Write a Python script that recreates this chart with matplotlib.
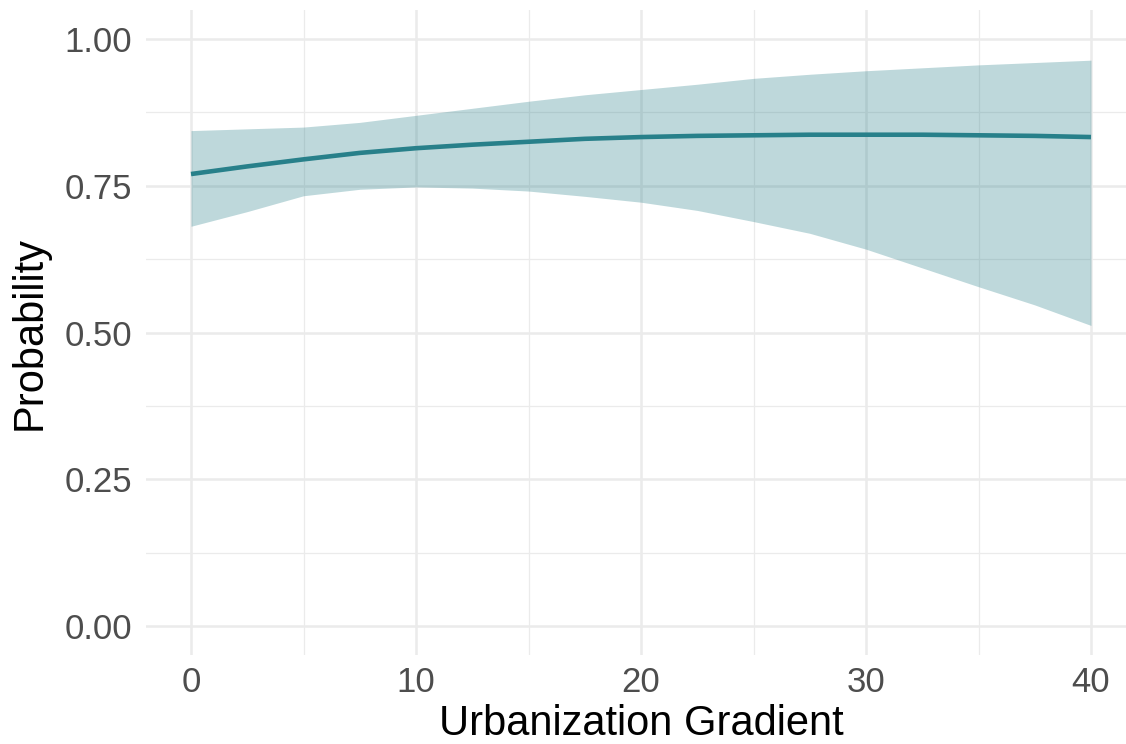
import matplotlib
matplotlib.use('Agg')
import matplotlib.pyplot as plt
from matplotlib.ticker import MultipleLocator, FormatStrFormatter

# predicted probability along the urbanization gradient, with 95% band
urban = [0, 2.5, 5, 7.5, 10, 12.5, 15, 17.5, 20, 22.5, 25, 27.5, 30, 32.5, 35, 37.5, 40]
prob = [0.770, 0.783, 0.795, 0.806, 0.814, 0.820, 0.825, 0.830, 0.833, 0.835, 0.836,
        0.837, 0.837, 0.837, 0.836, 0.835, 0.833]
upper = [0.844, 0.847, 0.850, 0.858, 0.870, 0.882, 0.894, 0.905, 0.914, 0.923, 0.933,
         0.940, 0.946, 0.951, 0.956, 0.960, 0.964]
lower = [0.681, 0.706, 0.733, 0.744, 0.748, 0.746, 0.741, 0.732, 0.722, 0.708, 0.689,
         0.669, 0.642, 0.610, 0.578, 0.547, 0.512]

col = '#28808a'

plt.rcParams['font.family'] = ['Liberation Sans', 'DejaVu Sans']

fig = plt.figure(figsize=(11.26, 7.44), dpi=100)
ax = fig.add_axes([146/1126, 88.7/744, 990/1126, 645.6/744])

ax.fill_between(urban, lower, upper, color=col, alpha=0.3, linewidth=0, zorder=2)
ax.plot(urban, prob, color=col, linewidth=3.3, solid_capstyle='butt', zorder=3)

ax.set_xlim(-2, 42)
ax.set_ylim(-0.05, 1.05)
ax.xaxis.set_major_locator(MultipleLocator(10))
ax.xaxis.set_minor_locator(MultipleLocator(5))
ax.yaxis.set_major_locator(MultipleLocator(0.25))
ax.yaxis.set_minor_locator(MultipleLocator(0.125))
ax.yaxis.set_major_formatter(FormatStrFormatter('%.2f'))

ax.grid(which='major', color='#ebebeb', linewidth=1.8, zorder=0)
ax.grid(which='minor', color='#ebebeb', linewidth=0.9, zorder=0)
ax.set_axisbelow(True)
for s in ax.spines.values():
    s.set_visible(False)
ax.tick_params(which='both', length=0)
ax.tick_params(axis='both', labelsize=25, labelcolor='#4d4d4d')
ax.tick_params(axis='x', pad=8)
ax.tick_params(axis='y', pad=10)

ax.set_xlabel('Urbanization Gradient', fontsize=30, color='black', labelpad=3)
ax.set_ylabel('Probability', fontsize=30, color='black', labelpad=11)

fig.savefig('out.png', dpi=100)
